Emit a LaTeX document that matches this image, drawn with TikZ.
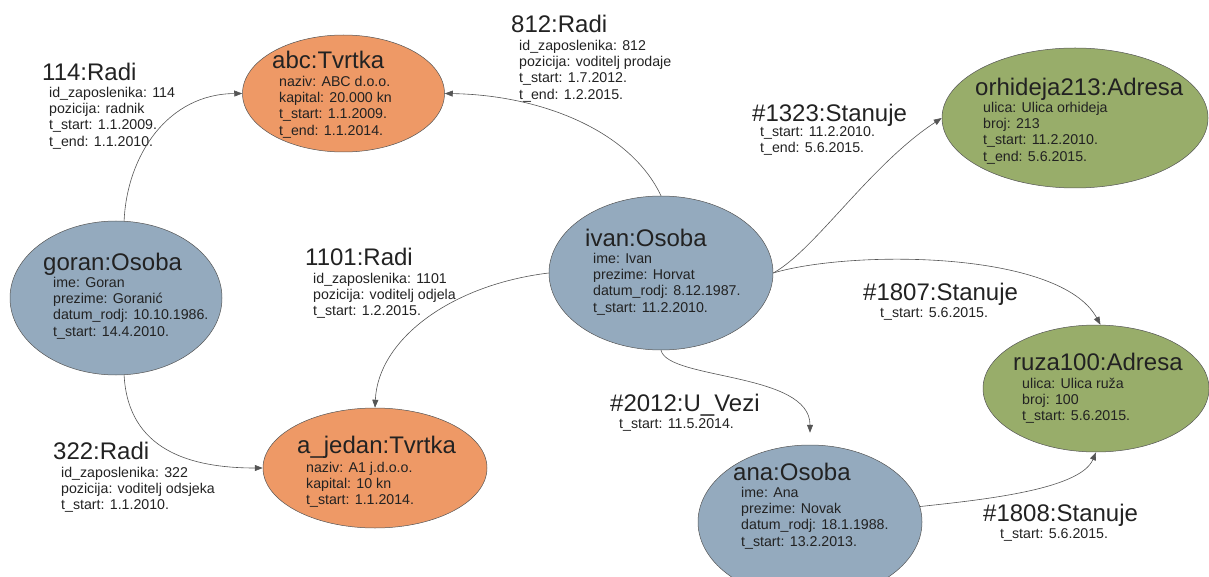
\documentclass[tikz,border=0pt]{standalone}
\usepackage{fontspec}
\setmainfont{Liberation Sans}
\usetikzlibrary{shapes.geometric,arrows.meta}
\definecolor{orangefill}{HTML}{EE9966}
\definecolor{bluefill}{HTML}{94AABE}
\definecolor{greenfill}{HTML}{98AD6A}
\definecolor{edgecol}{HTML}{555555}
\definecolor{txtcol}{HTML}{222222}
\tikzset{
  ent/.style={ellipse, draw=edgecol, line width=0.5pt, inner sep=0pt},
  tvrtka/.style={ent, fill=orangefill},
  osoba/.style={ent, fill=bluefill},
  adresa/.style={ent, fill=greenfill},
  ttl/.style={anchor=base west, inner sep=0pt, text=txtcol, font=\fontsize{24}{28}\selectfont},
  att/.style={anchor=north west, inner sep=0pt, align=left, text=txtcol, font=\fontsize{14.2}{16.4}\selectfont},
  rel/.style={draw=edgecol, line width=0.6pt, -{Triangle[length=8pt,width=6pt]}}
}
\begin{document}
\begin{tikzpicture}[x=1pt,y=-1pt]
\useasboundingbox (0,0) rectangle (1209,577);
% entities
\node[tvrtka, minimum width=202pt, minimum height=117pt] (abc) at (343.5,93.5) {};
\node[adresa, minimum width=266pt, minimum height=140pt] (orh) at (1075,118) {};
\node[osoba, minimum width=212pt, minimum height=154pt] (goran) at (116,298) {};
\node[osoba, minimum width=224pt, minimum height=154pt] (ivan) at (661,273) {};
\node[tvrtka, minimum width=224pt, minimum height=120pt] (ajedan) at (375,468) {};
\node[adresa, minimum width=226pt, minimum height=127pt] (ruza) at (1096,388.5) {};
\node[osoba, minimum width=224pt, minimum height=154pt] (ana) at (810,522) {};

% entity texts
\node[ttl] (abcT) at (272,68.5) {abc:Tvrtka};
\node[att] (abcA) at (279,74.5) {\strut naziv: ABC d.o.o.\\kapital: 20.000 kn\\t\_start: 1.1.2009.\\t\_end: 1.1.2014.};
\node[ttl] (orhT) at (975,95.5) {orhideja213:Adresa};
\node[att] (orhA) at (983,100.5) {\strut ulica: Ulica orhideja\\broj: 213\\t\_start: 11.2.2010.\\t\_end: 5.6.2015.};
\node[ttl] (goranT) at (43,270.5) {goran:Osoba};
\node[att] (goranA) at (53,275.5) {\strut ime: Goran\\prezime: Goranić\\datum\_rodj: 10.10.1986.\\t\_start: 14.4.2010.};
\node[ttl] (ivanT) at (585,246.5) {ivan:Osoba};
\node[att] (ivanA) at (593,251.5) {\strut ime: Ivan\\prezime: Horvat\\datum\_rodj: 8.12.1987.\\t\_start: 11.2.2010.};
\node[ttl] (ajedanT) at (297,453.5) {a\_jedan:Tvrtka};
\node[att] (ajedanA) at (306,460.5) {\strut naziv: A1 j.d.o.o.\\kapital: 10 kn\\t\_start: 1.1.2014.};
\node[ttl] (ruzaT) at (1013,370.5) {ruza100:Adresa};
\node[att] (ruzaA) at (1022,376.5) {\strut ulica: Ulica ruža\\broj: 100\\t\_start: 5.6.2015.};
\node[ttl] (anaT) at (733,480.5) {ana:Osoba};
\node[att] (anaA) at (741,485.5) {\strut ime: Ana\\prezime: Novak\\datum\_rodj: 18.1.1988.\\t\_start: 13.2.2013.};

% relation labels
\node[ttl] (r114T) at (42,80.5) {114:Radi};
\node[att] (r114A) at (49,85.5) {\strut id\_zaposlenika: 114\\pozicija: radnik\\t\_start: 1.1.2009.\\t\_end: 1.1.2010.};
\node[ttl] (r812T) at (511,32.5) {812:Radi};
\node[att] (r812A) at (519,38.5) {\strut id\_zaposlenika: 812\\pozicija: voditelj prodaje\\t\_start: 1.7.2012.\\t\_end: 1.2.2015.};
\node[ttl] (r1323T) at (752,121.5) {\#1323:Stanuje};
\node[att] (r1323A) at (760,124.5) {\strut t\_start: 11.2.2010.\\t\_end: 5.6.2015.};
\node[ttl] (r1101T) at (305,265.5) {1101:Radi};
\node[att] (r1101A) at (313,271.5) {\strut id\_zaposlenika: 1101\\pozicija: voditelj odjela\\t\_start: 1.2.2015.};
\node[ttl] (r1807T) at (863,300.5) {\#1807:Stanuje};
\node[att] (r1807A) at (880,305.5) {\strut t\_start: 5.6.2015.};
\node[ttl] (r322T) at (53,459.5) {322:Radi};
\node[att] (r322A) at (61,465.5) {\strut id\_zaposlenika: 322\\pozicija: voditelj odsjeka\\t\_start: 1.1.2010.};
\node[ttl] (r2012T) at (610,411.5) {\#2012:U\_Vezi};
\node[att] (r2012A) at (619,416.5) {\strut t\_start: 11.5.2014.};
\node[ttl] (r1808T) at (983,521.5) {\#1808:Stanuje};
\node[att] (r1808A) at (1000,526.5) {\strut t\_start: 5.6.2015.};

% connectors
\draw[rel] (goran.84) .. controls (127,155) and (168,94) .. (abc.west);
\draw[rel] (ivan.north) .. controls (630,130) and (540,95) .. (abc.east);
\draw[rel] (ivan.west) .. controls (450,285) and (378,340) .. (ajedan.north);
\draw[rel] (goran.-84) .. controls (128,450) and (190,468) .. (ajedan.west);
\draw[rel] (ivan.east) .. controls (815,250) and (870,165) .. (orh.west);
\draw[rel] (ivan.east) .. controls (850,250) and (1060,250) .. (ruza.86);
\draw[rel, shorten >=12pt] (ivan.south) .. controls (668,380) and (810,372) .. (ana.north);
\draw[rel] (ana.8) .. controls (980,500) and (1080,490) .. (ruza.south);
\end{tikzpicture}
\end{document}
